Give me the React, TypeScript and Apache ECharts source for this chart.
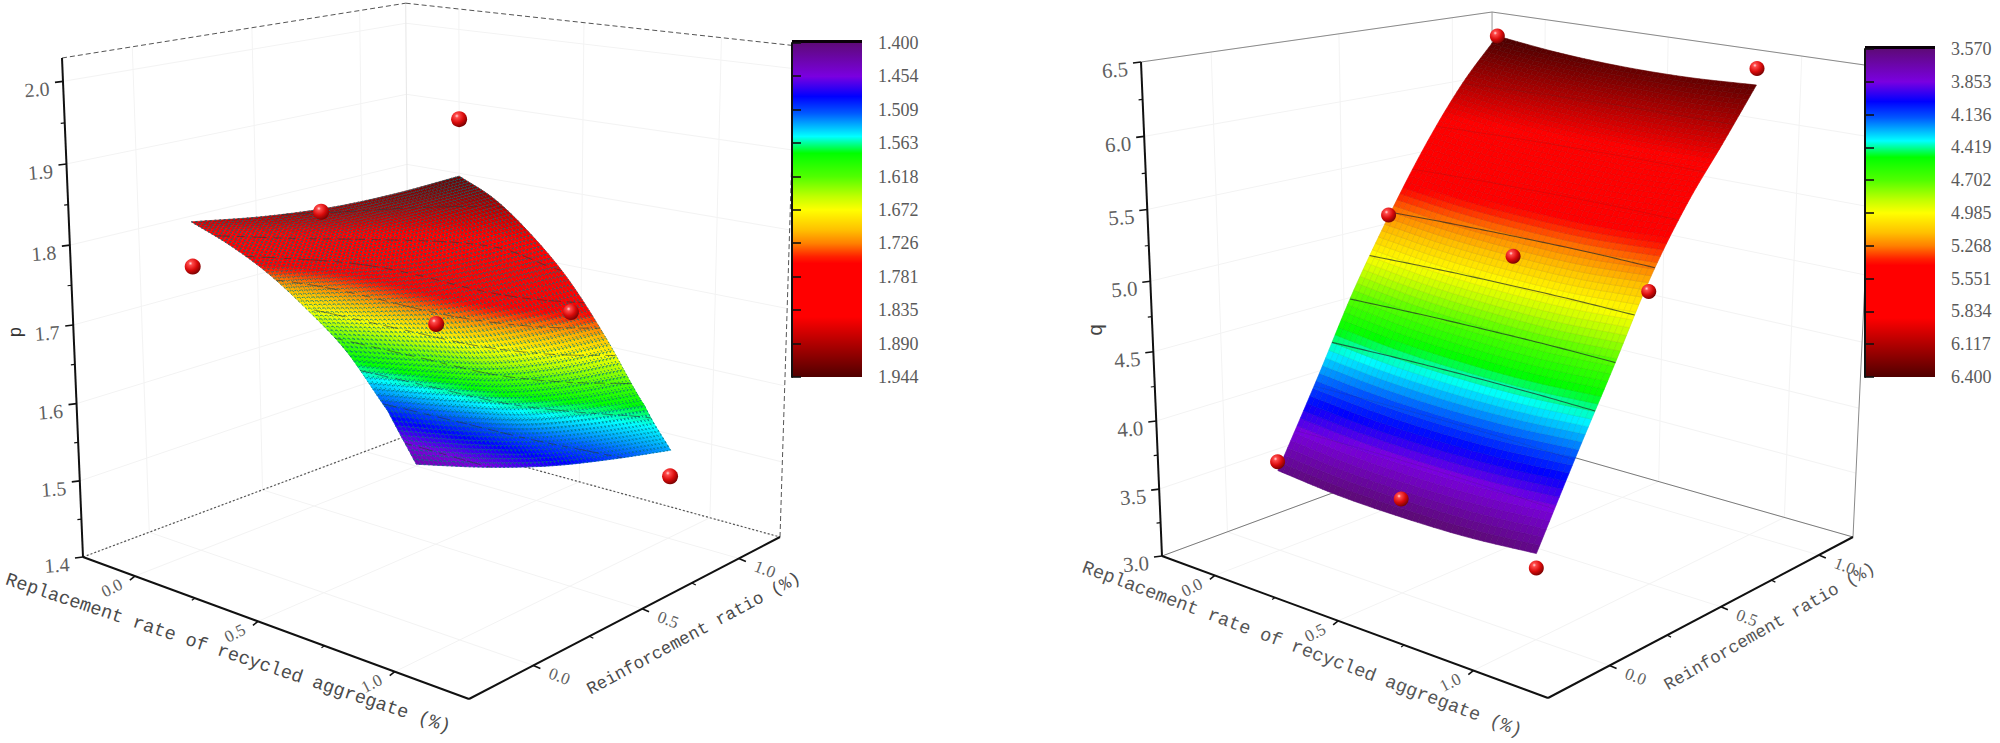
import React, { useEffect, useRef } from "react";
import * as echarts from "echarts";

// ---------- data ----------
const xTicks = [0, 0.5, 1];
const xMinorTicks = [0.25, 0.75];
const yTicks = [0, 0.5, 1];
const yMinorTicks = [0.25, 0.75];

const xTitle = "Replacement rate of recycled aggregate (%)";
const yTitle = "Reinforcement ratio (%)";

const leftZTicks = [1.4, 1.5, 1.6, 1.7, 1.8, 1.9, 2.0];
const leftZMinor = [1.45, 1.55, 1.65, 1.75, 1.85, 1.95];
const leftColourTicks = [1.4, 1.454, 1.509, 1.563, 1.618, 1.672, 1.726, 1.781, 1.835, 1.89, 1.944];
const leftSurfaceX = [0, 0.15, 0.3, 0.45, 0.6, 0.75, 0.85];
const leftSurfaceY = [0, 0.31, 0.615, 0.92, 1.23];
const leftSurfaceZ = [
  [1.823, 1.805, 1.781, 1.748, 1.708, 1.649, 1.595],
  [1.807, 1.788, 1.763, 1.722, 1.674, 1.61, 1.557],
  [1.797, 1.778, 1.746, 1.7, 1.642, 1.575, 1.525],
  [1.794, 1.773, 1.737, 1.688, 1.622, 1.55, 1.5],
  [1.796, 1.772, 1.732, 1.68, 1.61, 1.53, 1.478],
];
const leftSurfaceColour = [
  [1.873, 1.813, 1.743, 1.672, 1.596, 1.498, 1.427],
  [1.887, 1.835, 1.772, 1.71, 1.623, 1.518, 1.453],
  [1.9, 1.857, 1.8, 1.748, 1.65, 1.539, 1.479],
  [1.914, 1.878, 1.828, 1.786, 1.678, 1.56, 1.505],
  [1.928, 1.9, 1.857, 1.824, 1.705, 1.58, 1.531],
];
const leftPoints = [
  [0, 0, 1.767],
  [0, 0.555, 1.795],
  [0, 1.23, 1.876],
  [0.46, 0.555, 1.68],
  [0.46, 1.23, 1.636],
  [0.85, 1.23, 1.442],
];

const rightZTicks = [3, 3.5, 4, 4.5, 5, 5.5, 6, 6.5];
const rightZMinor = [3.25, 3.75, 4.25, 4.75, 5.25, 5.75, 6.25];
const rightColourTicks = [3.57, 3.853, 4.136, 4.419, 4.702, 4.985, 5.268, 5.551, 5.834, 6.117, 6.4];
const rightSurfaceX = [0, 0.25, 0.5, 0.75, 1];
const rightSurfaceY = [0, 0.16, 0.32, 0.48, 0.64, 0.8, 0.96];
const rightSurfaceZ = [
  [3.6, 3.56, 3.55, 3.56, 3.6],
  [4.17, 4.127, 4.11, 4.117, 4.15],
  [4.76, 4.7, 4.67, 4.66, 4.68],
  [5.27, 5.22, 5.195, 5.19, 5.22],
  [5.73, 5.67, 5.64, 5.63, 5.65],
  [6.12, 6.05, 6.01, 5.99, 6.0],
  [6.43, 6.375, 6.345, 6.34, 6.36],
];
const rightPoints = [
  [0, 0.96, 6.43],
  [1, 0.96, 6.476],
  [0, 0.47, 5.25],
  [0.5, 0.47, 5.15],
  [1, 0.47, 5.116],
  [0, 0, 3.665],
  [0.5, 0, 3.68],
  [1, 0, 3.5],
];
const rightStrongLevels = [4.419, 4.702, 4.985, 5.268];
const rightFaintLevels = [3.853, 4.136, 5.551, 5.834, 6.117];

const colourStops: [number, string][] = [
  [0, "#5e0a78"],
  [0.1, "#7a00e0"],
  [0.16, "#0000ff"],
  [0.21, "#0058ff"],
  [0.28, "#00ffff"],
  [0.33, "#00ff00"],
  [0.4, "#50ff00"],
  [0.46, "#c0ff00"],
  [0.5, "#ffff00"],
  [0.56, "#ffc000"],
  [0.6, "#ff8000"],
  [0.64, "#ff2000"],
  [0.66, "#ff0000"],
  [0.82, "#ff0000"],
  [0.9, "#b00000"],
  [1, "#500000"],
];

// ---------- helpers ----------
const hex = (s: string) => [parseInt(s.slice(1, 3), 16), parseInt(s.slice(3, 5), 16), parseInt(s.slice(5, 7), 16)];

function colourAt(f: number, shade = 1): string {
  const t = Math.max(0, Math.min(1, f));
  let k = 0;
  while (k < colourStops.length - 2 && t > colourStops[k + 1][0]) k++;
  const [a, ca] = colourStops[k];
  const [b, cb] = colourStops[k + 1];
  const m = (t - a) / (b - a);
  const A = hex(ca);
  const B = hex(cb);
  const c = A.map((v, i) => Math.round((v + (B[i] - v) * m) * shade));
  return `rgb(${c[0]},${c[1]},${c[2]})`;
}

function cr(p0: number, p1: number, p2: number, p3: number, t: number) {
  return 0.5 * (2 * p1 + (p2 - p0) * t + (2 * p0 - 5 * p1 + 4 * p2 - p3) * t * t + (3 * p1 - p0 - 3 * p2 + p3) * t * t * t);
}
function along(arr: number[], s: number) {
  const n = arr.length;
  const i = Math.min(n - 2, Math.floor(s));
  const t = s - i;
  const p1 = arr[i];
  const p2 = arr[i + 1];
  const p0 = i > 0 ? arr[i - 1] : 2 * p1 - p2;
  const p3 = i < n - 2 ? arr[i + 2] : 2 * p2 - p1;
  return cr(p0, p1, p2, p3, t);
}
function sampleGrid(grid: number[][], si: number, sj: number) {
  return along(grid.map((row) => along(row, si)), sj);
}
function nodeValue(nodes: number[], s: number) {
  const i = Math.min(nodes.length - 2, Math.floor(s));
  return nodes[i] + (nodes[i + 1] - nodes[i]) * (s - i);
}

type Pt = [number, number];
interface Cfg {
  A: Pt; B: Pt; C: Pt; D: Pt; E: Pt; depth: number;
  xRange: Pt; yRange: Pt; zRange: Pt;
}
function makeProjection(c: Cfg) {
  const { A, B, C, D, E, depth } = c;
  const p = [B[0] - C[0], B[1] - C[1]];
  const q = [D[0] - C[0], D[1] - C[1]];
  const r = [C[0] + A[0] - B[0] - D[0], C[1] + A[1] - B[1] - D[1]];
  const det = p[0] * q[1] - q[0] * p[1];
  const a = (r[0] * q[1] - q[0] * r[1]) / det;
  const b = (p[0] * r[1] - r[0] * p[1]) / det;
  const U = [(1 + a) * B[0] - A[0], (1 + a) * B[1] - A[1]];
  const V = [(1 + b) * D[0] - A[0], (1 + b) * D[1] - A[1]];
  const H = [(1 + depth) * E[0] - A[0], (1 + depth) * E[1] - A[1]];
  return (x: number, y: number, z: number): Pt => {
    const u = (x - c.xRange[0]) / (c.xRange[1] - c.xRange[0]);
    const v = (y - c.yRange[0]) / (c.yRange[1] - c.yRange[0]);
    const h = (z - c.zRange[0]) / (c.zRange[1] - c.zRange[0]);
    const W = 1 + a * u + b * v + depth * h;
    return [(A[0] + U[0] * u + V[0] * v + H[0] * h) / W, (A[1] + U[1] * u + V[1] * v + H[1] * h) / W];
  };
}

const base = { type: "custom", coordinateSystem: "cartesian2d", xAxisIndex: 0, yAxisIndex: 0, silent: true, clip: false, animation: false };

type Proj = ReturnType<typeof makeProjection>;

function segments(project: Proj, segs: number[][], style: any, z: number) {
  return {
    ...base,
    z,
    data: segs,
    renderItem: (_: any, api: any) => {
      const a = api.coord(project(api.value(0), api.value(1), api.value(2)));
      const b = api.coord(project(api.value(3), api.value(4), api.value(5)));
      return { type: "line", shape: { x1: a[0], y1: a[1], x2: b[0], y2: b[1] }, style };
    },
  };
}
function ticks(project: Proj, pts: number[][], d: Pt, width: number) {
  return {
    ...base,
    z: 2,
    data: pts,
    renderItem: (_: any, api: any) => {
      const a = api.coord(project(api.value(0), api.value(1), api.value(2)));
      return {
        type: "line",
        shape: { x1: a[0], y1: a[1], x2: a[0] + d[0], y2: a[1] + d[1] },
        style: { stroke: "#111", lineWidth: width },
      };
    },
  };
}
function labels(project: Proj, pts: number[][], valueDim: number, off: Pt, rotation: number, size: number, colour: string) {
  return {
    ...base,
    z: 3,
    data: pts,
    renderItem: (_: any, api: any) => {
      const a = api.coord(project(api.value(0), api.value(1), api.value(2)));
      return {
        type: "text",
        x: a[0] + off[0],
        y: a[1] + off[1],
        rotation,
        style: {
          text: Number(api.value(valueDim)).toFixed(1),
          fill: colour,
          fontFamily: "Liberation Serif",
          fontSize: size,
          align: "center",
          verticalAlign: "middle",
        },
      };
    },
  };
}

function surface(
  project: Proj,
  xs: number[],
  ys: number[],
  zs: number[][],
  cs: number[][],
  cRange: Pt,
  subX: number,
  subY: number,
  strokeOf: (f: number) => string,
  lineWidth: number,
  lineDash?: number[],
) {
  const nx = xs.length;
  const data: number[][] = [];
  ys.forEach((y, j) => xs.forEach((x, i) => data.push([x, y, zs[j][i], cs[j][i]])));
  const at = (si: number, sj: number) => project(nodeValue(xs, si), nodeValue(ys, sj), sampleGrid(zs, si, sj));
  return {
    ...base,
    z: 4,
    data,
    renderItem: (params: any, api: any) => {
      const i = params.dataIndex % nx;
      const j = Math.floor(params.dataIndex / nx);
      if (i === nx - 1 || j === ys.length - 1) return null;
      const children: any[] = [];
      for (let b = 0; b < subY; b++) {
        for (let a = 0; a < subX; a++) {
          const s0 = i + a / subX;
          const s1 = i + (a + 1) / subX;
          const t0 = j + b / subY;
          const t1 = j + (b + 1) / subY;
          const f = (sampleGrid(cs, (s0 + s1) / 2, (t0 + t1) / 2) - cRange[0]) / (cRange[1] - cRange[0]);
          const pts = [at(s0, t0), at(s1, t0), at(s1, t1), at(s0, t1)].map((p) => api.coord(p));
          if (lineDash) {
            children.push({
              type: "polygon",
              shape: { points: pts },
              style: { fill: colourAt(f), stroke: colourAt(f), lineWidth: 0.6 },
            });
          }
          children.push({
            type: "polygon",
            shape: { points: pts },
            style: { fill: lineDash ? "none" : colourAt(f), stroke: strokeOf(f), lineWidth, lineDash },
          });
        }
      }
      return { type: "group", children };
    },
  };
}

function contours(
  project: Proj,
  xs: number[],
  ys: number[],
  zs: number[][],
  cs: number[][],
  levels: number[],
  style: any,
  skipEvery: number,
) {
  const FX = 48;
  const FY = 48;
  const si = (a: number) => (a / FX) * (xs.length - 1);
  const sj = (b: number) => (b / FY) * (ys.length - 1);
  const vals: number[][] = [];
  for (let b = 0; b <= FY; b++) {
    const row: number[] = [];
    for (let a = 0; a <= FX; a++) row.push(sampleGrid(cs, si(a), sj(b)));
    vals.push(row);
  }
  const pos = (a: number, b: number) => project(nodeValue(xs, si(a)), nodeValue(ys, sj(b)), sampleGrid(zs, si(a), sj(b)));
  return {
    ...base,
    z: 5,
    data: levels.map((l) => [l]),
    renderItem: (_: any, api: any) => {
      const level = api.value(0);
      const children: any[] = [];
      let k = 0;
      for (let b = 0; b < FY; b++) {
        for (let a = 0; a < FX; a++) {
          const crossings: [number, number][] = [];
          const test = (a0: number, b0: number, a1: number, b1: number) => {
            const v0 = vals[b0][a0];
            const v1 = vals[b1][a1];
            if ((v0 - level) * (v1 - level) < 0) {
              const t = (level - v0) / (v1 - v0);
              crossings.push([a0 + (a1 - a0) * t, b0 + (b1 - b0) * t]);
            }
          };
          test(a, b, a + 1, b);
          test(a + 1, b, a + 1, b + 1);
          test(a + 1, b + 1, a, b + 1);
          test(a, b + 1, a, b);
          if (crossings.length === 2) {
            k++;
            if (skipEvery && k % skipEvery === 0) continue;
            const p = api.coord(pos(crossings[0][0], crossings[0][1]));
            const q = api.coord(pos(crossings[1][0], crossings[1][1]));
            children.push({ type: "line", shape: { x1: p[0], y1: p[1], x2: q[0], y2: q[1] }, style });
          }
        }
      }
      return { type: "group", children };
    },
  };
}

function spheres(project: Proj, pts: number[][], r: number) {
  return {
    ...base,
    z: 6,
    data: pts,
    renderItem: (_: any, api: any) => {
      const c = api.coord(project(api.value(0), api.value(1), api.value(2)));
      return {
        type: "circle",
        shape: { cx: c[0], cy: c[1], r },
        style: {
          fill: new echarts.graphic.RadialGradient(0.36, 0.3, 0.78, [
            { offset: 0, color: "#ffdcdc" },
            { offset: 0.16, color: "#ff4a4a" },
            { offset: 0.55, color: "#d80a0a" },
            { offset: 1, color: "#640000" },
          ]),
        },
      };
    },
  };
}

function frame(project: Proj, c: Cfg, zTicks: number[], zMinor: number[], back: any, floor: any, backVertical: string, zLabelSize: number, labelColour: string, tickLabelSize: number) {
  const [x0, x1] = c.xRange;
  const [y0, y1] = c.yRange;
  const [z0, z1] = c.zRange;
  const grid: number[][] = [];
  zTicks.forEach((z) => {
    grid.push([x0, y0, z, x0, y1, z]);
    grid.push([x0, y1, z, x1, y1, z]);
  });
  yTicks.forEach((y) => {
    grid.push([x0, y, z0, x0, y, z1]);
    grid.push([x0, y, z0, x1, y, z0]);
  });
  xTicks.forEach((x) => {
    grid.push([x, y1, z0, x, y1, z1]);
    grid.push([x, y0, z0, x, y1, z0]);
  });
  return [
    segments(project, grid, { stroke: "#f3f3f3", lineWidth: 1 }, 1),
    segments(project, [[x0, y1, z0, x0, y1, z1]], { stroke: backVertical, lineWidth: 1 }, 1),
    segments(project, [[x0, y0, z1, x0, y1, z1], [x0, y1, z1, x1, y1, z1], [x1, y1, z0, x1, y1, z1]], back, 1),
    segments(project, [[x0, y0, z0, x0, y1, z0], [x0, y1, z0, x1, y1, z0]], floor, 1),
    segments(project, [[x0, y0, z0, x1, y0, z0], [x1, y0, z0, x1, y1, z0], [x0, y0, z0, x0, y0, z1]], { stroke: "#111", lineWidth: 2 }, 2),
    ticks(project, zTicks.map((z) => [x0, y0, z]), [-8, 1], 1.6),
    ticks(project, zMinor.map((z) => [x0, y0, z]), [-4, 0.5], 1.2),
    ticks(project, xTicks.map((x) => [x, y0, z0]), [-5, 4], 1.6),
    ticks(project, xMinorTicks.map((x) => [x, y0, z0]), [-3, 2], 1.2),
    ticks(project, yTicks.map((y) => [x1, y, z0]), [7, 3], 1.6),
    ticks(project, yMinorTicks.map((y) => [x1, y, z0]), [4, 2], 1.2),
    labels(project, zTicks.map((z) => [x0, y0, z]), 2, [-26, 8], 0.07, zLabelSize, labelColour),
    labels(project, xTicks.map((x) => [x, y0, z0]), 0, [-23, 12], 0.47, tickLabelSize, labelColour),
    labels(project, yTicks.map((y) => [x1, y, z0]), 1, [26, 11], -0.36, tickLabelSize, labelColour),
  ];
}

function colourBar(index: number, ticksArr: number[]) {
  const lo = ticksArr[0];
  const hi = ticksArr[ticksArr.length - 1];
  return {
    ...base,
    z: 8,
    xAxisIndex: index,
    yAxisIndex: index,
    encode: { x: 0, y: 1 },
    data: [[0, lo, hi]],
    renderItem: (_: any, api: any) => {
      const a = api.coord([0, api.value(1)]);
      const b = api.coord([1, api.value(2)]);
      const stops = colourStops.map(([offset, color]) => ({ offset, color }));
      return {
        type: "group",
        children: [
          { type: "rect", shape: { x: a[0], y: a[1] - 3, width: b[0] - a[0], height: 3 }, style: { fill: "#0a0008" } },
          {
            type: "rect",
            shape: { x: a[0], y: a[1], width: b[0] - a[0], height: b[1] - a[1] },
            style: { fill: new echarts.graphic.LinearGradient(0, 0, 0, 1, stops) },
          },
        ],
      };
    },
  };
}
function barAxes(index: number, ticksArr: number[], colour: string) {
  return {
    x: { type: "value", gridIndex: index, min: 0, max: 1, show: false },
    y: {
      type: "value",
      gridIndex: index,
      inverse: true,
      position: "right",
      min: ticksArr[0],
      max: ticksArr[ticksArr.length - 1],
      z: 9,
      splitLine: { show: false },
      axisLine: { show: true, lineStyle: { color: "#111", width: 2 } },
      axisTick: { show: true, length: 9, customValues: ticksArr, lineStyle: { color: "#111", width: 1.6 } },
      axisLabel: {
        show: true,
        customValues: ticksArr,
        margin: 16,
        color: colour,
        fontFamily: "Liberation Serif",
        fontSize: 18,
        formatter: (v: number) => v.toFixed(3),
      },
    },
  };
}

function titleText(text: string, x: number, y: number, deg: number, size: number, colour: string) {
  return {
    type: "text",
    x,
    y,
    rotation: (deg * Math.PI) / 180,
    silent: true,
    style: { text, fill: colour, fontFamily: "Liberation Mono", fontSize: size, align: "center", verticalAlign: "middle" },
  };
}

const leftCfg: Cfg = {
  A: [83, 557], B: [469, 699], C: [780, 537], D: [409, 435], E: [62, 58], depth: -0.05,
  xRange: [-0.227, 1.25], yRange: [-0.27, 1.23], zRange: [1.4, 2.028],
};
const rightCfg: Cfg = {
  A: [1162, 556], B: [1548, 698], C: [1853, 537], D: [1492, 434], E: [1141, 62], depth: -0.06,
  xRange: [-0.229, 1.257], yRange: [-0.25, 1.19], zRange: [3, 6.5],
};

function buildOption() {
  const pl = makeProjection(leftCfg);
  const pr = makeProjection(rightCfg);
  const lRange: Pt = [leftColourTicks[0], leftColourTicks[leftColourTicks.length - 1]];
  const rRange: Pt = [rightColourTicks[0], rightColourTicks[rightColourTicks.length - 1]];
  const axL = barAxes(1, leftColourTicks, "#5a5a5a");
  const axR = barAxes(2, rightColourTicks, "#5a5a5a");
  return {
    animation: false,
    backgroundColor: "#ffffff",
    grid: [
      { left: 0, top: 0, width: 2000, height: 743 },
      { left: 792, top: 43, width: 70, height: 334 },
      { left: 1865, top: 49, width: 70, height: 328 },
    ],
    xAxis: [{ type: "value", gridIndex: 0, min: 0, max: 2000, show: false }, axL.x, axR.x],
    yAxis: [{ type: "value", gridIndex: 0, min: 0, max: 743, inverse: true, show: false }, axL.y, axR.y],
    graphic: [
      titleText(xTitle, 228, 654, -18.5, 18.6, "#4a4a4a"),
      titleText(yTitle, 694, 634, 28.3, 17.4, "#4a4a4a"),
      titleText("p", 16, 332, 90, 18, "#333"),
      titleText(xTitle, 1302, 650, -20.6, 18.6, "#555"),
      titleText(yTitle, 1770, 627, 29.8, 17.4, "#555"),
      titleText("q", 1096, 330, 90, 21, "#444"),
    ],
    series: [
      ...frame(pl, leftCfg, leftZTicks, leftZMinor, { stroke: "#555", lineWidth: 1, lineDash: [5, 3] }, { stroke: "#555", lineWidth: 1.2, lineDash: [2, 2] }, "#e6e6e6", 20, "#5f5f5f", 17),
      ...frame(pr, rightCfg, rightZTicks, rightZMinor, { stroke: "#8a8a8a", lineWidth: 1 }, { stroke: "#7a7a7a", lineWidth: 1 }, "#9a9a9a", 21, "#5f5f5f", 17),
      surface(pl, leftSurfaceX, leftSurfaceY, leftSurfaceZ, leftSurfaceColour, lRange, 11, 16, () => "rgba(0,115,125,0.8)", 1, [1.6, 2.4]),
      contours(pl, leftSurfaceX, leftSurfaceY, leftSurfaceZ, leftSurfaceColour, leftColourTicks.slice(1, 10), { stroke: "rgba(40,50,50,0.55)", lineWidth: 1 }, 3),
      surface(pr, rightSurfaceX, rightSurfaceY, rightSurfaceZ, rightSurfaceZ, rRange, 12, 12, (f) => colourAt(f, 0.9), 0.6),
      contours(pr, rightSurfaceX, rightSurfaceY, rightSurfaceZ, rightSurfaceZ, rightStrongLevels, { stroke: "rgba(30,40,40,0.7)", lineWidth: 1.1 }, 0),
      contours(pr, rightSurfaceX, rightSurfaceY, rightSurfaceZ, rightSurfaceZ, rightFaintLevels, { stroke: "rgba(40,40,40,0.14)", lineWidth: 1 }, 0),
      spheres(pl, leftPoints, 8),
      spheres(pr, rightPoints, 7.5),
      colourBar(1, leftColourTicks),
      colourBar(2, rightColourTicks),
    ],
  };
}

export default function App() {
  const ref = useRef<HTMLDivElement>(null);
  useEffect(() => {
    const chart = echarts.init(ref.current!, null, { renderer: "svg" });
    chart.setOption(buildOption() as any);
    return () => chart.dispose();
  }, []);
  return <div ref={ref} style={{ position: "fixed", left: 0, top: 0, width: 2000, height: 743 }} />;
}
